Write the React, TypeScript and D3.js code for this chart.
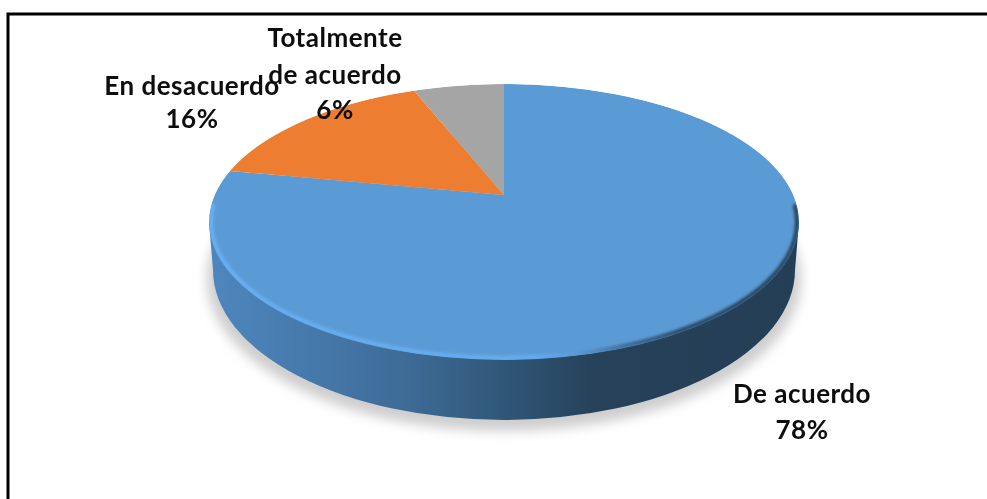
import React from "react";
import * as d3 from "d3";

const categories = ["De acuerdo", "En desacuerdo", "Totalmente de acuerdo"];
const values = [78, 16, 6];
const percentLabels = ["78%", "16%", "6%"];
const sliceColors = ["#5b9bd5", "#ed7d31", "#a5a5a5"];

// layout of the tilted disc
const CX = 504;
const TOP = { cy: 222, rx: 295, ry: 138 };
const BOTTOM = { cy: 270, rx: 291, ry: 150 };
const APEX_Y = 195;
// perspective: the pie's centre projects above the ellipse's centre
const P_A = -94.6;
const P_C = 0.1957;
const P_K = 289.3;

const project = (a: number): [number, number] => {
  const u = Math.sin(a);
  const v = Math.cos(a);
  const d = P_C * v + 1;
  return [CX + (P_K * u) / d, (P_A * v + APEX_Y) / d];
};

const labelLayout = [
  { x: 802, ys: [403, 439], lines: [categories[0]] },
  { x: 192, ys: [95, 128], lines: [categories[1]] },
  { x: 335, ys: [47, 84, 119], lines: ["Totalmente", "de acuerdo"] },
];

export default function App() {
  const arcs = d3.pie<number>().sort(null).startAngle(0).endAngle(2 * Math.PI)(values);
  const line = d3.line();
  const wedges = arcs.map((s) => {
    const n = Math.max(8, Math.ceil((s.endAngle - s.startAngle) * 60));
    const pts = d3.range(n + 1).map((i) => project(s.startAngle + ((s.endAngle - s.startAngle) * i) / n));
    return line([[CX, APEX_Y], ...pts]) + "Z";
  });
  const wall = `M${CX - TOP.rx},${TOP.cy} L${CX - BOTTOM.rx},${BOTTOM.cy} A${BOTTOM.rx},${BOTTOM.ry} 0 0 0 ${CX + BOTTOM.rx},${BOTTOM.cy} L${CX + TOP.rx},${TOP.cy} Z`;
  const rimR = 2;
  const rimStartY = TOP.cy - 16;
  const rimDx = (TOP.rx - rimR) * Math.sqrt(1 - ((TOP.cy - rimStartY) / (TOP.ry - rimR)) ** 2);
  const rim = `M${CX - rimDx},${rimStartY} A${TOP.rx - rimR},${TOP.ry - rimR} 0 1 0 ${CX + rimDx},${rimStartY}`;
  const font = "Lato, sans-serif";

  return (
    <svg
      width={987}
      height={499}
      viewBox="0 0 987 499"
      style={{ position: "absolute", left: 0, top: 0, background: "#fff" }}
    >
      <defs>
        <linearGradient id="wallG" gradientUnits="userSpaceOnUse" x1={213} x2={795} y1={0} y2={0}>
          <stop offset="0" stopColor="#4d86bd" />
          <stop offset="0.17" stopColor="#4679ab" />
          <stop offset="0.34" stopColor="#3d6a95" />
          <stop offset="0.5" stopColor="#305778" />
          <stop offset="0.66" stopColor="#264159" />
          <stop offset="1" stopColor="#243e56" />
        </linearGradient>
        <linearGradient id="rimG" gradientUnits="userSpaceOnUse" x1={209} x2={799} y1={0} y2={0}>
          <stop offset="0" stopColor="#69b1f5" />
          <stop offset="0.55" stopColor="#66aef2" />
          <stop offset="0.62" stopColor="#5b9bd5" />
          <stop offset="0.7" stopColor="#3d6a95" />
          <stop offset="0.8" stopColor="#264159" />
          <stop offset="1" stopColor="#243e56" />
        </linearGradient>
        <filter id="shadowBlur" x="-10%" y="-10%" width="120%" height="120%">
          <feGaussianBlur stdDeviation="6" />
        </filter>
        <filter id="rimBlur" x="-5%" y="-5%" width="110%" height="110%">
          <feGaussianBlur stdDeviation="1.4" />
        </filter>
        <filter id="softText" x="-5%" y="-20%" width="110%" height="140%">
          <feGaussianBlur stdDeviation="0.4" />
        </filter>
        <clipPath id="topClip">
          <ellipse cx={CX} cy={TOP.cy} rx={TOP.rx} ry={TOP.ry} />
        </clipPath>
      </defs>

      <path d="M8,499 V14 H987" fill="none" stroke="#000" strokeWidth={3} />

      <ellipse
        cx={CX}
        cy={BOTTOM.cy + 9}
        rx={BOTTOM.rx + 6}
        ry={BOTTOM.ry + 2}
        fill="#cdcdcd"
        filter="url(#shadowBlur)"
      />
      <path d={wall} fill="url(#wallG)" />

      <g clipPath="url(#topClip)">
        {wedges.map((d, i) => (
          <path key={categories[i]} d={d} fill={sliceColors[i]} />
        ))}
        <path d={rim} fill="none" stroke="url(#rimG)" strokeWidth={4} strokeLinecap="round" filter="url(#rimBlur)" />
      </g>

      <g
        fontFamily={font}
        fontWeight={700}
        fontSize={26}
        letterSpacing={0.5}
        textAnchor="middle"
        fill="#0d0d0d"
        filter="url(#softText)"
      >
        {labelLayout.map((l, i) => (
          <g key={categories[i]}>
            {[...l.lines, percentLabels[i]].map((t, j) => (
              <text key={j} x={l.x} y={l.ys[j]}>
                {t}
              </text>
            ))}
          </g>
        ))}
      </g>
    </svg>
  );
}
